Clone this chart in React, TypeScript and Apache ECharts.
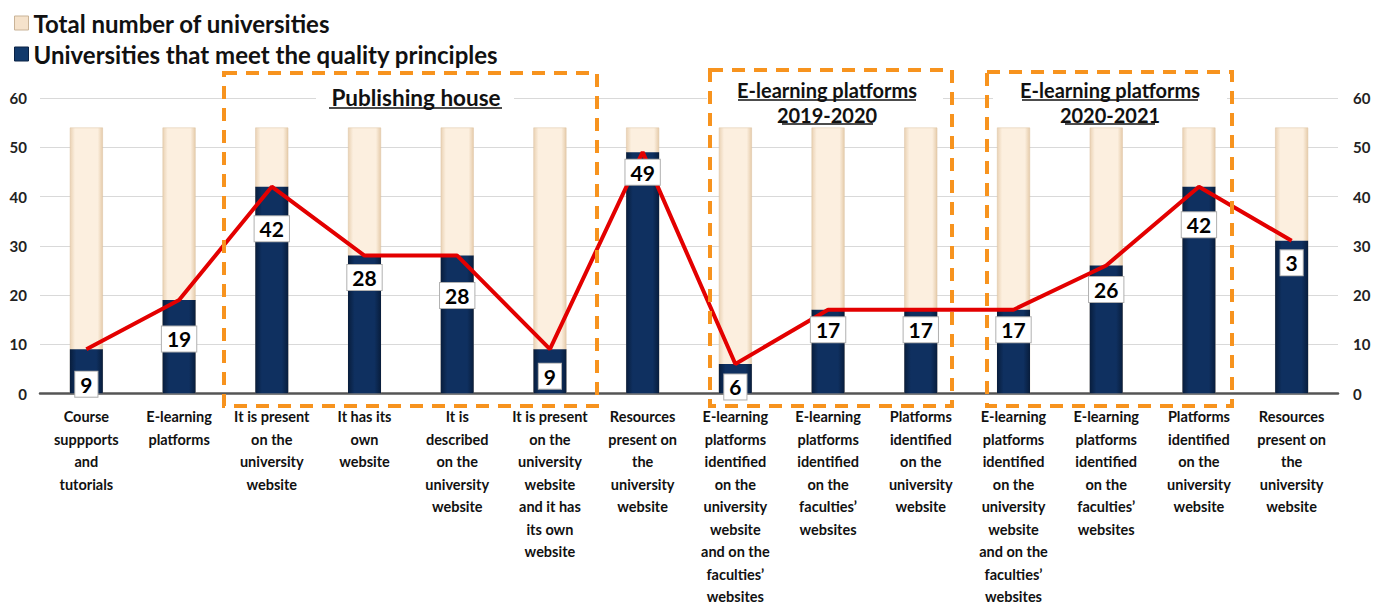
import React, { useEffect, useRef } from "react";
import * as echarts from "echarts";

const categories = [
  "Course\nsuppports\nand\ntutorials",
  "E-learning\nplatforms",
  "It is present\non the\nuniversity\nwebsite",
  "It has its\nown\nwebsite",
  "It is\ndescribed\non the\nuniversity\nwebsite",
  "It is present\non the\nuniversity\nwebsite\nand it has\nits own\nwebsite",
  "Resources\npresent on\nthe\nuniversity\nwebsite",
  "E-learning\nplatforms\nidentified\non the\nuniversity\nwebsite\nand on the\nfaculties’\nwebsites",
  "E-learning\nplatforms\nidentified\non the\nfaculties’\nwebsites",
  "Platforms\nidentified\non the\nuniversity\nwebsite",
  "E-learning\nplatforms\nidentified\non the\nuniversity\nwebsite\nand on the\nfaculties’\nwebsites",
  "E-learning\nplatforms\nidentified\non the\nfaculties’\nwebsites",
  "Platforms\nidentified\non the\nuniversity\nwebsite",
  "Resources\npresent on\nthe\nuniversity\nwebsite",
];

const totalUniversities = [54, 54, 54, 54, 54, 54, 54, 54, 54, 54, 54, 54, 54, 54];
const qualityUniversities = [9, 19, 42, 28, 28, 9, 49, 6, 17, 17, 17, 26, 42, 31];
const valueLabels = ["9", "19", "42", "28", "28", "9", "49", "6", "17", "17", "17", "26", "42", "3"];
const yTicks = [0, 10, 20, 30, 40, 50, 60];

const seriesNames = ["Total number of universities", "Universities that meet the quality principles"];
const groupTitles = ["Publishing house", "E-learning platforms\n2019-2020", "E-learning platforms\n2020-2021"];

// label drop (px below the bar top), styling only
const labelDrop = [35, 39, 42, 22, 40, 27, 20, 23, 20, 20, 20, 24, 38, 22];

const FONT = "Lato, 'Noto Sans', sans-serif";

export default function App() {
  const ref = useRef<HTMLDivElement>(null);
  useEffect(() => {
    document.body.style.margin = "0";
    document.body.style.overflow = "hidden";
    document.documentElement.style.overflow = "hidden";
    const chart = echarts.init(ref.current!, null, { renderer: "svg" });
    const BW = 33;
    const navyGrad = new echarts.graphic.LinearGradient(0, 0, 1, 0, [
      { offset: 0, color: "#081d3c" },
      { offset: 0.2, color: "#0f3060" },
      { offset: 0.8, color: "#0f3060" },
      { offset: 1, color: "#081d3c" },
    ]);
    const creamGrad = new echarts.graphic.LinearGradient(0, 0, 1, 0, [
      { offset: 0, color: "#ead2b4" },
      { offset: 0.15, color: "#fcefdf" },
      { offset: 0.85, color: "#fcefdf" },
      { offset: 1, color: "#e6ccab" },
    ]);
    const titleStyle = {
      fontFamily: FONT,
      fontWeight: "bold" as const,
      fontSize: 20,
      fill: "#111",
      align: "center" as const,
      verticalAlign: "middle" as const,
    };
    const box = (x: number, y: number, w: number, h: number) => ({
      type: "rect",
      z: 100,
      shape: { x, y, width: w, height: h },
      style: { fill: "none", stroke: "#f7931e", lineWidth: 4, lineDash: [13, 9] },
    });
    const white = (x: number, y: number, w: number, h: number) => ({
      type: "rect",
      z: 99,
      shape: { x, y, width: w, height: h },
      style: { fill: "#fff" },
    });
    const uline = (x1: number, x2: number, y: number) => ({
      type: "line",
      z: 101,
      shape: { x1, y1: y, x2, y2: y },
      style: { stroke: "#111", lineWidth: 1.5 },
    });
    const [t1, t2, t3] = groupTitles;
    const t2l = t2.split("\n");
    const t3l = t3.split("\n");

    const topRender = (kind: "navy" | "cream") => (params: any, api: any) => {
      const p = api.coord([api.value(0), api.value(1)]);
      const h = kind === "navy" ? 7 : 9;
      const fill =
        kind === "navy"
          ? new echarts.graphic.LinearGradient(0, 0, 0, 1, [
              { offset: 0, color: "#6a88b0" },
              { offset: 1, color: "#1e4476" },
            ])
          : new echarts.graphic.LinearGradient(0, 0, 0, 1, [
              { offset: 0, color: "#ffffff" },
              { offset: 1, color: "#fcefdf" },
            ]);
      return {
        type: "polygon",
        shape: {
          points: [
            [p[0] - BW / 2, p[1]],
            [p[0] + BW / 2, p[1]],
            [p[0] + BW / 2 - 4, p[1] + h],
            [p[0] - BW / 2 + 4, p[1] + h],
          ],
        },
        style: { fill },
      };
    };

    chart.setOption({
      animation: false,
      backgroundColor: "#fff",
      legend: {
        orient: "vertical",
        left: 9,
        top: 6,
        itemGap: 7,
        itemWidth: 14,
        itemHeight: 14,
        icon: "rect",
        textStyle: { fontFamily: FONT, fontWeight: "bold", fontSize: 24, color: "#111", lineHeight: 24 },
        data: [
          { name: seriesNames[0], itemStyle: { color: "#f5e2cb", borderColor: "#c9b397", borderWidth: 1 } },
          { name: seriesNames[1], itemStyle: { color: "#123a6c", borderColor: "#0a2244", borderWidth: 1 } },
        ],
      },
      grid: { left: 40, right: 44, top: 98, bottom: 211, containLabel: false },
      xAxis: {
        type: "category",
        data: categories,
        axisTick: { show: false },
        axisLine: { lineStyle: { color: "#555", width: 2.5 } },
        axisLabel: {
          interval: 0,
          margin: 12,
          fontFamily: FONT,
          fontWeight: "bold",
          fontSize: 14.5,
          lineHeight: 22.5,
          color: "#111",
        },
      },
      yAxis: [
        {
          type: "value",
          min: yTicks[0],
          max: yTicks[yTicks.length - 1],
          interval: 10,
          axisLabel: { fontFamily: FONT, fontWeight: "bold", fontSize: 15, color: "#222", margin: 13 },
          splitLine: { lineStyle: { color: "#d9d9d9", width: 1 } },
          axisLine: { show: false },
          axisTick: { show: false },
        },
        {
          type: "value",
          min: yTicks[0],
          max: yTicks[yTicks.length - 1],
          interval: 10,
          position: "right",
          axisLabel: { fontFamily: FONT, fontWeight: "bold", fontSize: 15, color: "#222", margin: 15 },
          splitLine: { show: false },
          axisLine: { show: false },
          axisTick: { show: false },
        },
      ],
      series: [
        {
          name: seriesNames[0],
          type: "bar",
          data: totalUniversities,
          barWidth: BW,
          barGap: "-100%",
          itemStyle: { color: creamGrad, borderColor: "#dcc3a2", borderWidth: 0.5 },
          z: 2,
        },
        {
          name: seriesNames[1],
          type: "bar",
          data: qualityUniversities,
          barWidth: BW,
          barGap: "-100%",
          itemStyle: { color: navyGrad },
          z: 2,
        },
        {
          type: "custom",
          renderItem: topRender("cream"),
          data: totalUniversities.map((v, i) => [i, v]),
          z: 2,
          silent: true,
        },
        {
          type: "custom",
          renderItem: topRender("navy"),
          data: qualityUniversities.map((v, i) => [i, v]),
          z: 2,
          silent: true,
        },
        {
          type: "line",
          data: qualityUniversities,
          symbol: "none",
          lineStyle: { color: "#e30000", width: 4 },
          z: 3,
        },
        {
          type: "scatter",
          symbolSize: 0,
          z: 5,
          itemStyle: { opacity: 1 },
          data: qualityUniversities.map((v, i) => ({
            value: [i, v],
            label: { offset: [0, labelDrop[i]] },
          })),
          label: {
            show: true,
            position: "inside",
            formatter: (p: any) => valueLabels[p.dataIndex],
            fontFamily: FONT,
            fontWeight: "bold",
            fontSize: 21,
            color: "#000",
            backgroundColor: "#ffffff",
            borderColor: "#b0b0b0",
            borderWidth: 1,
            padding: [3, 5, 1, 5],
            opacity: 1,
          },
        },
      ],
      graphic: [
        white(316, 86, 198, 24),
        white(707, 76, 236, 50),
        white(993, 76, 234, 50),
        box(224, 73, 373, 333),
        box(710, 70, 242, 336),
        box(987, 72, 245, 334),
        { type: "text", z: 101, x: 416, y: 97, style: { ...titleStyle, fontSize: 22.5, text: t1 } },
        uline(329, 502, 108),
        { type: "text", z: 101, x: 827, y: 90, style: { ...titleStyle, text: t2l[0] } },
        uline(738, 916, 100),
        { type: "text", z: 101, x: 827, y: 115, style: { ...titleStyle, text: t2l[1] } },
        uline(782, 873, 124),
        { type: "text", z: 101, x: 1110, y: 90, style: { ...titleStyle, text: t3l[0] } },
        uline(1022, 1198, 100),
        { type: "text", z: 101, x: 1110, y: 115, style: { ...titleStyle, text: t3l[1] } },
        uline(1065, 1155, 124),
      ],
    });
    return () => chart.dispose();
  }, []);
  return <div ref={ref} style={{ width: 1382, height: 608, overflow: "hidden" }} />;
}
